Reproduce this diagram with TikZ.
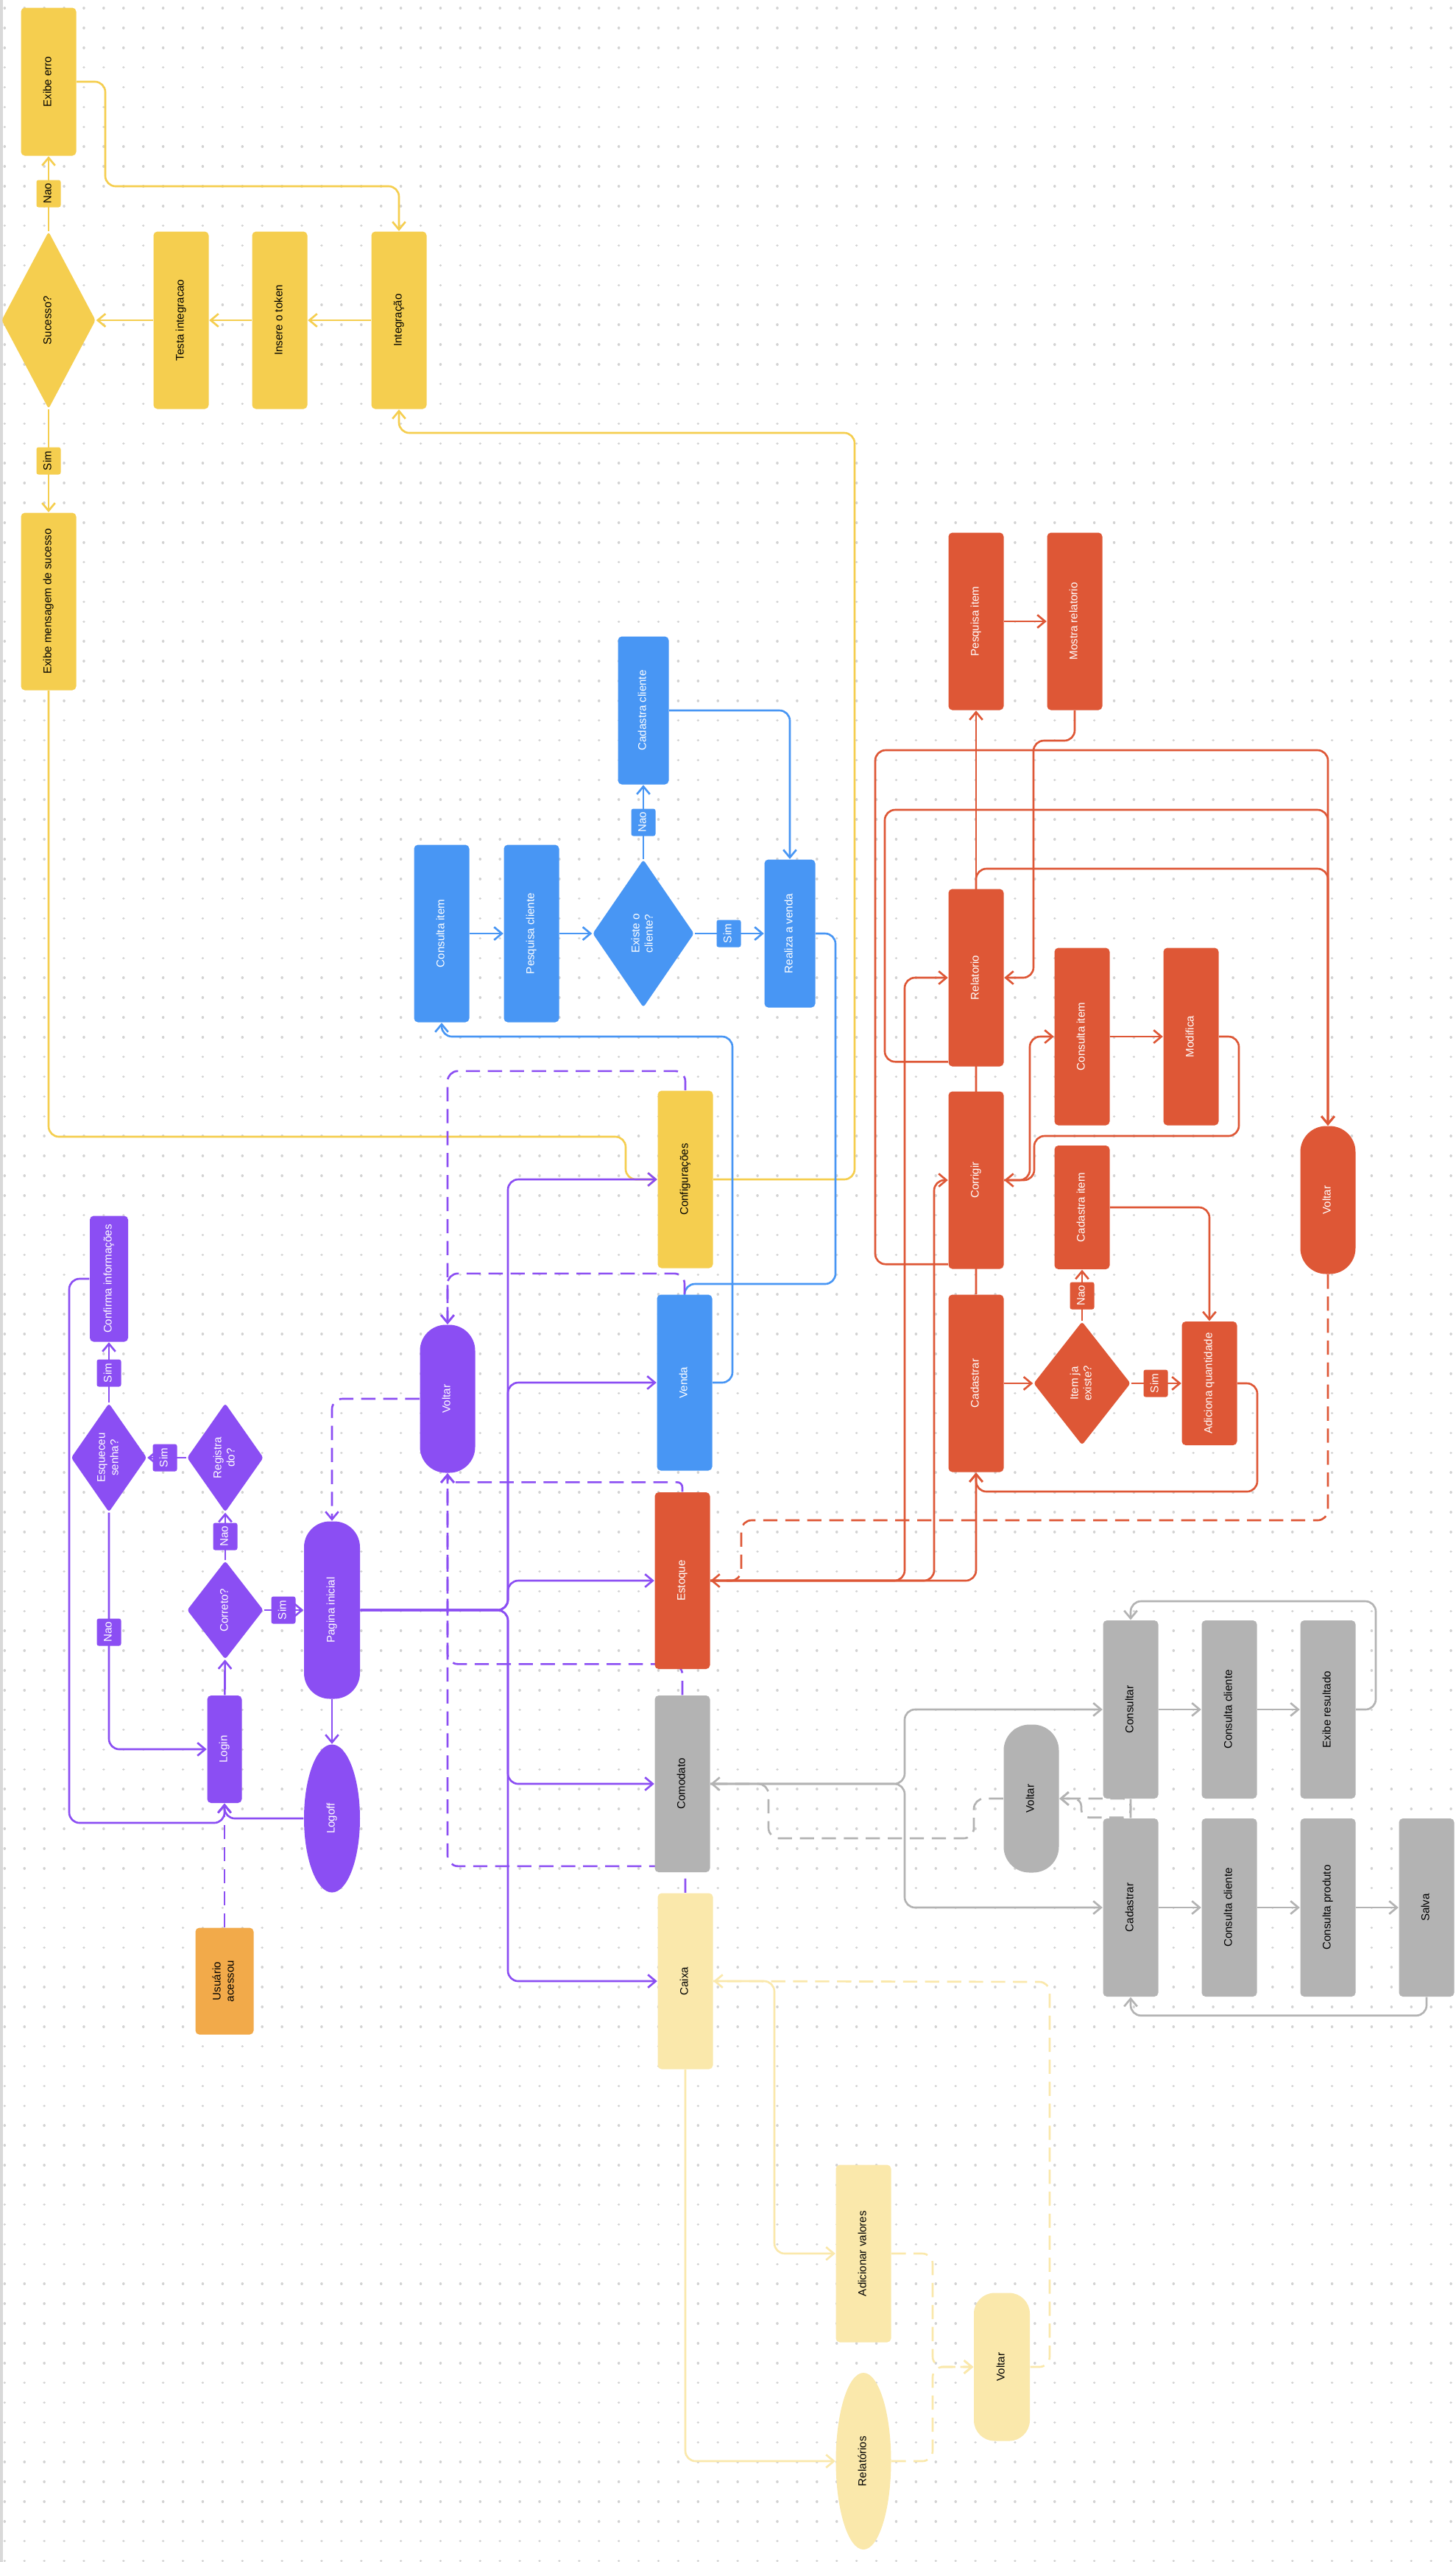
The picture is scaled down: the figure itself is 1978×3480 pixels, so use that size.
\documentclass[tikz,border=0pt]{standalone}
\usepackage{fontspec}
\setmainfont{Liberation Sans}
\usepackage{graphicx}
\usetikzlibrary{shapes.geometric,arrows.meta,positioning}

\definecolor{yel}{HTML}{F5CE4F}
\definecolor{blu}{HTML}{4896F4}
\definecolor{rd}{HTML}{DE5736}
\definecolor{pur}{HTML}{8B4EF3}
\definecolor{gry}{HTML}{B3B3B3}
\definecolor{crm}{HTML}{FAE8AB}
\definecolor{org}{HTML}{F2AA4A}
\definecolor{dotc}{HTML}{D2D2D2}

\newcommand{\vtext}[1]{\rotatebox{90}{\begin{tabular}{@{}c@{}}#1\end{tabular}}}

\pgfdeclarelayer{grid}
\pgfdeclarelayer{bg}
\pgfsetlayers{grid,bg,main}

\tikzset
{
    box/.style     = {rectangle, rounded corners=1.5pt, inner sep=0pt, minimum width=7.5mm, minimum height=24.1mm, align=center, font=\fontsize{4.3}{5.1}\selectfont},
    stadium/.style = {box, rounded corners=10pt, minimum height=20.1mm},
    dia/.style     = {diamond, aspect=1, inner sep=0pt, rounded corners=1pt, align=center, font=\fontsize{4.3}{5.1}\selectfont},
    oval/.style    = {ellipse, inner sep=0pt, minimum width=7.6mm, align=center, font=\fontsize{4.3}{5.1}\selectfont},
    tag/.style     = {rectangle, rounded corners=0.8pt, inner sep=0pt, minimum width=3.3mm, minimum height=3.7mm, font=\fontsize{4.3}{5.1}\selectfont},
    ybox/.style    = {box, fill=yel, text=black},
    bbox/.style    = {box, fill=blu, text=white},
    rbox/.style    = {box, fill=rd, text=white},
    pbox/.style    = {box, fill=pur, text=white},
    gbox/.style    = {box, fill=gry, text=black},
    cbox/.style    = {box, fill=crm, text=black},
    ytag/.style    = {tag, fill=yel, text=black},
    btag/.style    = {tag, fill=blu, text=white},
    rtag/.style    = {tag, fill=rd, text=white},
    ptag/.style    = {tag, fill=pur, text=white},
    conn/.style    = {line width=0.75pt, rounded corners=4pt, -{Straight Barb[length=3pt,width=5pt]}},
    back/.style    = {dash pattern=on 5.5pt off 3pt},
    yconn/.style   = {conn, draw=yel},
    bconn/.style   = {conn, draw=blu},
    rconn/.style   = {conn, draw=rd},
    pconn/.style   = {conn, draw=pur},
    gconn/.style   = {conn, draw=gry},
    cconn/.style   = {conn, draw=crm}
}

\begin{document}
\begin{tikzpicture}[x=0.1mm, y=-0.1mm]
    \useasboundingbox (0,0) rectangle (1978,3480);

    % dotted canvas
    \begin{pgfonlayer}{grid}
        \fill[white] (0,0) rectangle (1978,3480);
        \draw[black!15, line width=1pt] (2,0) -- (2,3480);
        \foreach \r in {0,...,129}
            \draw[dotc, line width=1pt, line cap=round, dash pattern=on 0.01pt off 7.648pt] (6.3,{11+26.88*\r}) -- (1978,{11+26.88*\r});
    \end{pgfonlayer}

    % integracao
    \node [ybox, minimum height=20.1mm] (erro) at (66,111) {\vtext{Exibe erro}};
    \node [ytag] (nao1) at (66,263) {\vtext{Nao}};
    \node [dia, fill=yel, minimum width=12.8mm, minimum height=24.1mm] (sucesso) at (66,435) {\vtext{Sucesso?}};
    \node [ybox] (testa) at (246,435) {\vtext{Testa integracao}};
    \node [ybox] (token) at (380,435) {\vtext{Insere o token}};
    \node [ybox] (integ) at (542,435) {\vtext{Integração}};
    \node [ytag] (sim1) at (66,626) {\vtext{Sim}};
    \node [ybox] (msg) at (66,817) {\vtext{Exibe mensagem de sucesso}};
    \node [ybox] (config) at (931,1602) {\vtext{Configurações}};

    % venda
    \node [bbox, minimum width=6.9mm, minimum height=20.1mm] (cadcli) at (874,965) {\vtext{Cadastra cliente}};
    \node [btag] (nao2) at (874,1117) {\vtext{Nao}};
    \node [dia, fill=blu, text=white, minimum width=13.8mm, minimum height=20.1mm] (existe) at (874,1268) {\vtext{Existe o\\cliente?}};
    \node [bbox] (consitem) at (600,1268) {\vtext{Consulta item}};
    \node [bbox] (pesqcli) at (722,1268) {\vtext{Pesquisa cliente}};
    \node [btag] (sim2) at (990,1268) {\vtext{Sim}};
    \node [bbox, minimum width=6.9mm, minimum height=20.1mm] (realiza) at (1073,1268) {\vtext{Realiza a venda}};
    \node [bbox, minimum height=23.9mm] (venda) at (930,1878) {\vtext{Venda}};

    % estoque
    \node [rbox] (pesqitem) at (1326,844) {\vtext{Pesquisa item}};
    \node [rbox] (mostra) at (1460,844) {\vtext{Mostra relatorio}};
    \node [rbox] (relat) at (1326,1328) {\vtext{Relatorio}};
    \node [rbox] (corrigir) at (1326,1603) {\vtext{Corrigir}};
    \node [rbox] (cadastrar) at (1326,1879) {\vtext{Cadastrar}};
    \node [rbox] (consitem2) at (1470,1408) {\vtext{Consulta item}};
    \node [rbox] (modifica) at (1618,1408) {\vtext{Modifica}};
    \node [rbox, minimum height=16.8mm] (caditem) at (1470,1640) {\vtext{Cadastra item}};
    \node [rtag] (nao3) at (1470,1760) {\vtext{Nao}};
    \node [dia, fill=rd, text=white, minimum width=13.2mm, minimum height=16.8mm] (existeitem) at (1470,1879) {\vtext{Item ja\\existe?}};
    \node [rtag] (sim3) at (1570,1879) {\vtext{Sim}};
    \node [rbox, minimum height=16.8mm] (adiciona) at (1643,1879) {\vtext{Adiciona quantidade}};
    \node [stadium, fill=rd, text=white] (voltarR) at (1804,1630) {\vtext{Voltar}};
    \node [rbox, minimum height=24mm] (estoque) at (927,2147) {\vtext{Estoque}};

    % login
    \node [pbox, minimum width=5.2mm, minimum height=17.1mm] (confirma) at (148,1737) {\vtext{Confirma informações}};
    \node [ptag] (sim4) at (148,1865) {\vtext{Sim}};
    \node [dia, fill=pur, text=white, minimum width=9.4mm, minimum height=14.8mm] (esqueceu) at (148,1980) {\vtext{Esqueceu\\senha?}};
    \node [ptag] (sim5) at (224,1980) {\vtext{Sim}};
    \node [dia, fill=pur, text=white, minimum width=10.4mm, minimum height=14.8mm] (registrado) at (306,1980) {\vtext{Registra\\do?}};
    \node [ptag] (nao4) at (306,2087) {\vtext{Nao}};
    \node [dia, fill=pur, text=white, minimum width=10.4mm, minimum height=13.4mm] (correto) at (306,2187) {\vtext{Correto?}};
    \node [ptag] (sim6) at (385,2187) {\vtext{Sim}};
    \node [stadium, fill=pur, text=white, minimum width=7.6mm, minimum height=24.1mm] (pagina) at (451,2187) {\vtext{Pagina inicial}};
    \node [ptag] (nao5) at (148,2217) {\vtext{Nao}};
    \node [pbox, minimum width=4.7mm, minimum height=14.6mm] (login) at (305,2376) {\vtext{Login}};
    \node [oval, fill=pur, text=white, minimum height=20.1mm] (logoff) at (451,2470) {\vtext{Logoff}};
    \node [box, fill=org, text=black, minimum width=7.9mm, minimum height=14.5mm] (usuario) at (305,2691) {\vtext{Usuário\\acessou}};
    \node [stadium, fill=pur, text=white] (voltarP) at (608,1900) {\vtext{Voltar}};
    \coordinate (trunk) at (690,2187);

    % comodato
    \node [gbox, minimum height=24mm] (comodato) at (927,2423) {\vtext{Comodato}};
    \node [gbox, minimum height=24.2mm] (consultar) at (1536,2322) {\vtext{Consultar}};
    \node [gbox, minimum height=24.2mm] (conscli1) at (1670,2322) {\vtext{Consulta cliente}};
    \node [gbox, minimum height=24.2mm] (exibe) at (1804,2322) {\vtext{Exibe resultado}};
    \node [gbox, minimum height=24.2mm] (cadgray) at (1536,2591) {\vtext{Cadastrar}};
    \node [gbox, minimum height=24.2mm] (conscli2) at (1670,2591) {\vtext{Consulta cliente}};
    \node [gbox, minimum height=24.2mm] (consprod) at (1804,2591) {\vtext{Consulta produto}};
    \node [gbox, minimum height=24.2mm] (salva) at (1938,2591) {\vtext{Salva}};
    \node [stadium, fill=gry, text=black] (voltarG) at (1401,2443) {\vtext{Voltar}};

    % caixa
    \node [cbox, minimum height=23.9mm] (caixa) at (931,2691) {\vtext{Caixa}};
    \node [cbox] (adic) at (1173,3061) {\vtext{Adicionar valores}};
    \node [oval, fill=crm, text=black, minimum width=7.5mm, minimum height=24mm] (relatorios) at (1173,3343) {\vtext{Relatórios}};
    \node [stadium, fill=crm, text=black, minimum width=7.6mm, rounded corners=8pt] (voltarC) at (1361,3215) {\vtext{Voltar}};

    \begin{pgfonlayer}{bg}
        % integracao
        \draw [yconn] (sucesso) -- (erro);
        \draw [yconn] (sucesso) -- (msg);
        \draw [yconn] (integ) -- (token);
        \draw [yconn] (token) -- (testa);
        \draw [yconn] (testa) -- (sucesso);
        \draw [yconn] (erro.east) -| (143,253) -| (integ.north);
        \draw [yconn] (config.east) -| (1161,588) -| (integ.south);
        \draw [yconn] (msg.south) |- (850,1544) |- (config.west);

        % venda
        \draw [bconn] (consitem) -- (pesqcli);
        \draw [bconn] (pesqcli) -- (existe);
        \draw [bconn] (existe) -- (realiza);
        \draw [bconn] (existe) -- (cadcli);
        \draw [bconn] (cadcli.east) -| (realiza.north);
        \draw [bconn] (realiza.east) -| (1135,1744) -| (venda.north);
        \draw [bconn] (venda.east) -| (995,1408) -| (consitem.south);

        % estoque
        \draw [rconn] (relat) -- (pesqitem);
        \draw [rconn] (pesqitem) -- (mostra);
        \draw [rconn] (mostra.south) |- (1404,1006) |- (relat.east);
        \draw [rconn] ([yshift=2pt]relat.south west) -| (1202,1100) -| (voltarR.north);
        \draw [rconn] ([yshift=2pt]corrigir.south west) -| (1189,1019) -| (voltarR.north);
        \draw [rconn] (cadastrar.north) -- (1326,1180) -| (voltarR.north);
        \draw [rconn] (estoque.east) -| (1229,1328) -- (relat.west);
        \draw [rconn] (estoque.east) -| (1269,1603) -- (corrigir.west);
        \draw [rconn] (estoque.east) -| (cadastrar.south);
        \draw [rconn] (corrigir.east) -| (1399,1408) -- (consitem2.west);
        \draw [rconn] (consitem2) -- (modifica);
        \draw [rconn] (modifica.east) -| (1683,1543) -| (1405,1603) -- (corrigir.east);
        \draw [rconn] (cadastrar) -- (existeitem);
        \draw [rconn] (existeitem) -- (adiciona);
        \draw [rconn] (existeitem) -- (caditem);
        \draw [rconn] (caditem.east) -| (adiciona.north);
        \draw [rconn] (adiciona.east) -| (1708,2026) -| (cadastrar.south);
        \draw [rconn, back] (voltarR.south) |- (1007,2065) |- (estoque.east);

        % login
        \draw [pconn, back] (usuario) -- (login);
        \draw [pconn] (logoff.west) -| (login.south);
        \draw [pconn] (confirma.west) -| (94,2476) -| (login.south);
        \draw [pconn] (login) -- (correto);
        \draw [pconn] (correto) -- (pagina);
        \draw [pconn] (correto) -- (registrado);
        \draw [pconn] (registrado) -- (esqueceu);
        \draw [pconn] (esqueceu) -- (confirma);
        \draw [pconn] (esqueceu.south) |- (login.west);
        \draw [pconn] (pagina) -- (logoff);
        \draw [pconn] (pagina.east) -| (config.west -| trunk) -- (config.west);
        \draw [pconn] (pagina.east) -| (venda.west -| trunk) -- (venda.west);
        \draw [pconn] (pagina.east) -| (estoque.west -| trunk) -- (estoque.west);
        \draw [pconn] (pagina.east) -| (comodato.west -| trunk) -- (comodato.west);
        \draw [pconn] (pagina.east) -| (caixa.west -| trunk) -- (caixa.west);
        \draw [pconn, back] (voltarP.west) -| (pagina.north);
        \draw [pconn, back] (config.north) -- ++(0,-26) -| (voltarP.north);
        \draw [pconn, back] (venda.north) -- ++(0,-28) -| (voltarP.north);
        \draw [pconn, back, rounded corners=2pt] (estoque.north) -- ++(0,-13) -| (voltarP.south);
        \draw [pconn, back] (comodato.north) -- ++(0,-42) -| (voltarP.south);
        \draw [pconn, back] (caixa.north) -- ++(0,-36) -| (voltarP.south);

        % comodato
        \draw [gconn] (comodato.east) -| (1229,2322) -- (consultar.west);
        \draw [gconn] (comodato.east) -| (1229,2591) -- (cadgray.west);
        \draw [gconn] (consultar) -- (conscli1);
        \draw [gconn] (conscli1) -- (exibe);
        \draw [gconn] (exibe.east) -| (1869,2175) -| (consultar.north);
        \draw [gconn] (cadgray) -- (conscli2);
        \draw [gconn] (conscli2) -- (consprod);
        \draw [gconn] (consprod) -- (salva);
        \draw [gconn] (salva.south) -- ++(0,25) -| (cadgray.south);
        \draw [gconn, back] (voltarG.west) -| (1323,2497) -| (1044,2423) -- (comodato.east);
        \draw [gconn, back, rounded corners=3pt] (consultar.south) -- ++(0,25) -| (1469,2443) -- (voltarG.east);
        \draw [gconn, back, rounded corners=3pt] (cadgray.north) |- (voltarG.east);

        % caixa
        \draw [cconn] (caixa.east) -| (1052,3061) -- (adic.west);
        \draw [cconn] (caixa.south) |- (relatorios.west);
        \draw [cconn, back] (adic.east) -| (1267,3215) -- (voltarC.west);
        \draw [cconn, back] (relatorios.east) -| (1267,3215) -- (voltarC.west);
        \draw [cconn, back] (voltarC.east) -| (1426,2692) -- (caixa.east);
    \end{pgfonlayer}
\end{tikzpicture}
\end{document}
